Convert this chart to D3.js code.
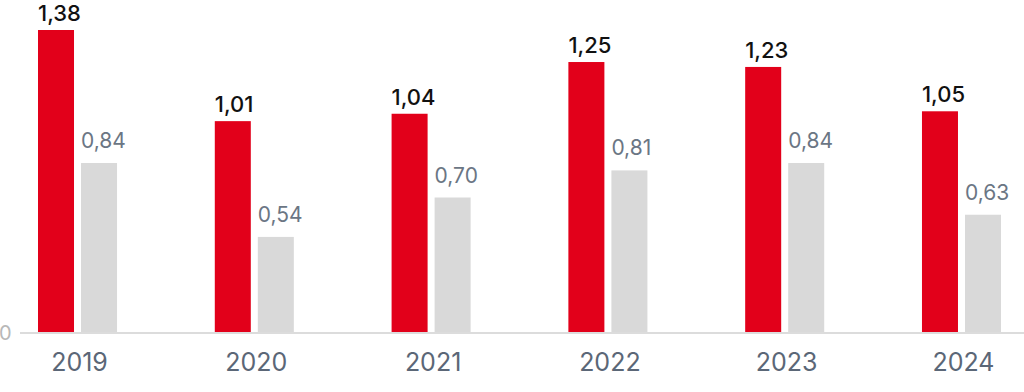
<!DOCTYPE html>
<html>
<head>
<meta charset="utf-8">
<script src="https://cdn.jsdelivr.net/npm/d3@7"></script>
<style>
  body { margin: 0; background: #fff; }
  svg { display: block; font-family: "Inter", "Noto Sans", sans-serif; }
</style>
</head>
<body>
<div id="chart"></div>
<script>
var years = ["2019", "2020", "2021", "2022", "2023", "2024"];
var seriesA = [1.38, 1.01, 1.04, 1.25, 1.23, 1.05];
var seriesB = [0.84, 0.54, 0.70, 0.81, 0.84, 0.63];
var seriesKeys = ["a", "b"];

var width = 1024, height = 392;

var svg = d3.select("#chart").append("svg")
    .attr("width", width)
    .attr("height", height);

// x: one band per year, inner band per series
var x = d3.scaleBand()
  .domain(years)
  .range([38, 1001])
  .paddingInner(0.553)
  .paddingOuter(0);

var xSub = d3.scaleBand()
  .domain(seriesKeys)
  .range([0, x.bandwidth()])
  .paddingInner(0.163);

// the axis floor is not at zero in the original
var y = d3.scaleLinear()
  .domain([0.154, 1.38])
  .range([332, 30]);

var fmt = function(v) { return d3.format(".2f")(v).replace(".", ","); };

var rows = years.map(function(yr, i) {
  return {year: yr, a: seriesA[i], b: seriesB[i]};
});

var colors = {a: "#e2001a", b: "#d9d9d9"};
var labelColors = {a: "#111111", b: "#6b7684"};
var labelGap = {a: 9, b: 15};

var groups = svg.selectAll("g.year")
  .data(rows)
  .enter().append("g")
    .attr("class", "year")
    .attr("transform", function(d) { return "translate(" + x(d.year) + ",0)"; });

seriesKeys.forEach(function(k) {
  groups.append("rect")
    .attr("x", xSub(k))
    .attr("y", function(d) { return y(d[k]); })
    .attr("width", xSub.bandwidth())
    .attr("height", function(d) { return y.range()[0] - y(d[k]); })
    .attr("fill", colors[k]);

  groups.append("text")
    .attr("x", xSub(k))
    .attr("y", function(d) { return y(d[k]) - labelGap[k]; })
    .attr("fill", labelColors[k])
    .attr("font-size", k === "a" ? 22 : 21)
    .attr("font-weight", k === "a" ? 500 : 400)
    .text(function(d) { return fmt(d[k]); });
});

// baseline
svg.append("line")
  .attr("x1", 20).attr("x2", width)
  .attr("y1", 333).attr("y2", 333)
  .attr("stroke", "#d0d0d0")
  .attr("stroke-width", 1.5);

svg.append("text")
  .attr("x", -1)
  .attr("y", 340)
  .attr("fill", "#b8b8b8")
  .attr("font-size", 20)
  .text("0");

// year labels
svg.selectAll("text.yr")
  .data(years)
  .enter().append("text")
    .attr("class", "yr")
    .attr("x", function(d) { return x(d) + x.bandwidth() / 2 + 2; })
    .attr("y", 371)
    .attr("text-anchor", "middle")
    .attr("fill", "#5b6777")
    .attr("font-size", 25)
    .text(function(d) { return d; });
</script>
</body>
</html>
